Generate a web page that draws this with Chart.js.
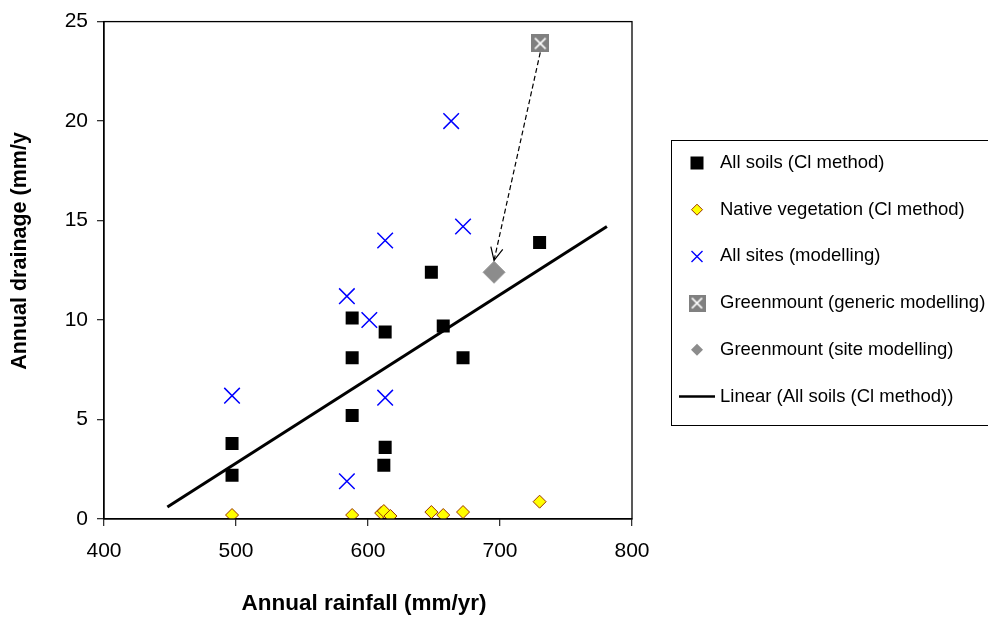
<!DOCTYPE html>
<html>
<head>
<meta charset="utf-8">
<script src="https://cdn.jsdelivr.net/npm/chart.js@4/dist/chart.umd.min.js"></script>
<style>
  html, body { margin: 0; padding: 0; background: #fff; }
  #wrap { width: 988px; height: 621px; position: relative; }
</style>
</head>
<body>
<div id="wrap"><canvas id="drainageChart" width="988" height="621"></canvas></div>
<script>
// values (rainfall mm/yr, drainage mm/y)
const soilX = [497, 497, 588, 588, 588, 613, 613, 612, 648, 657, 672, 730];
const soilY = [3.8, 2.2, 10.1, 8.1, 5.2, 9.4, 3.6, 2.7, 12.4, 9.7, 8.1, 13.9];

const nativeX = [497, 588, 610, 612, 617, 648, 657, 672, 730];
const nativeY = [0.2, 0.2, 0.3, 0.4, 0.15, 0.35, 0.2, 0.35, 0.87];

const sitesX = [497, 584, 601, 613, 584, 663, 613, 672];
const sitesY = [6.2, 11.2, 10.0, 6.1, 1.9, 20.0, 14.0, 14.7];

const genericX = [730.5];
const genericY = [23.9];

const siteModelX = [695.5];
const siteModelY = [12.4];

// trendline end points
const trendX = [448, 781];
const trendY = [0.6, 14.7];

// dashed arrow from generic to site modelling
const arrowFrom = [730.5, 23.45];
const arrowTo = [695.5, 13.0];

const xTicks = [400, 500, 600, 700, 800];
const yTicks = [0, 5, 10, 15, 20, 25];

const legendLabels = [
    'All soils (Cl method)',
    'Native vegetation (Cl method)',
    'All sites (modelling)',
    'Greenmount (generic modelling)',
    'Greenmount (site modelling)',
    'Linear (All soils (Cl method))'
];

const fontFamily = '"Liberation Sans", Arial, sans-serif';

function toPoints(xs, ys) {
    return xs.map((x, i) => ({ x: x, y: ys[i] }));
}

// gray square with white cross marker
function makeGenericMarker(size) {
    const c = document.createElement('canvas');
    c.width = size;
    c.height = size;
    const g = c.getContext('2d');
    g.fillStyle = '#808080';
    g.fillRect(0, 0, size, size);
    g.strokeStyle = '#ffffff';
    g.lineWidth = 1.6;
    const m = size * 0.2;
    g.beginPath();
    g.moveTo(m, m); g.lineTo(size - m, size - m);
    g.moveTo(size - m, m); g.lineTo(m, size - m);
    g.stroke();
    return c;
}
const genericMarker = makeGenericMarker(18);
const genericMarkerSmall = makeGenericMarker(17);

function drawMarker(ctx, kind, x, y) {
    ctx.save();
    if (kind === 0) {
        ctx.fillStyle = '#000';
        ctx.fillRect(x - 6.5, y - 6.5, 13, 13);
    } else if (kind === 1) {
        ctx.beginPath();
        ctx.moveTo(x - 5.5, y); ctx.lineTo(x, y - 5.5); ctx.lineTo(x + 5.5, y); ctx.lineTo(x, y + 5.5);
        ctx.closePath();
        ctx.fillStyle = '#ffff00';
        ctx.fill();
        ctx.strokeStyle = '#993300';
        ctx.lineWidth = 1;
        ctx.stroke();
    } else if (kind === 2) {
        ctx.strokeStyle = '#0000ff';
        ctx.lineWidth = 1.4;
        ctx.beginPath();
        ctx.moveTo(x - 5.5, y - 5.5); ctx.lineTo(x + 5.5, y + 5.5);
        ctx.moveTo(x + 5.5, y - 5.5); ctx.lineTo(x - 5.5, y + 5.5);
        ctx.stroke();
    } else if (kind === 3) {
        ctx.drawImage(genericMarkerSmall, x - 8.5, y - 8.5);
    } else if (kind === 4) {
        ctx.beginPath();
        ctx.moveTo(x - 6, y); ctx.lineTo(x, y - 6); ctx.lineTo(x + 6, y); ctx.lineTo(x, y + 6);
        ctx.closePath();
        ctx.fillStyle = '#8c8c8c';
        ctx.fill();
    } else {
        ctx.strokeStyle = '#000';
        ctx.lineWidth = 2.5;
        ctx.beginPath();
        ctx.moveTo(x - 18, y); ctx.lineTo(x + 18, y);
        ctx.stroke();
    }
    ctx.restore();
}

const extrasPlugin = {
    id: 'extras',
    afterDatasetsDraw(chart) {
        const ctx = chart.ctx;
        const xs = chart.scales.x, ys = chart.scales.y;

        // dashed arrow
        const x1 = xs.getPixelForValue(arrowFrom[0]), y1 = ys.getPixelForValue(arrowFrom[1]);
        const x2 = xs.getPixelForValue(arrowTo[0]), y2 = ys.getPixelForValue(arrowTo[1]);
        ctx.save();
        ctx.strokeStyle = '#000';
        ctx.lineWidth = 1.2;
        ctx.setLineDash([5, 3]);
        ctx.beginPath();
        ctx.moveTo(x1, y1);
        ctx.lineTo(x2, y2);
        ctx.stroke();
        ctx.setLineDash([]);
        const ang = Math.atan2(y2 - y1, x2 - x1);
        const len = 14;
        ctx.beginPath();
        ctx.moveTo(x2 - len * Math.cos(ang - 0.45), y2 - len * Math.sin(ang - 0.45));
        ctx.lineTo(x2, y2);
        ctx.lineTo(x2 - len * Math.cos(ang + 0.45), y2 - len * Math.sin(ang + 0.45));
        ctx.stroke();
        ctx.restore();
    },
    afterDraw(chart) {
        const ctx = chart.ctx;
        const a = chart.chartArea;
        ctx.save();

        // plot box
        ctx.strokeStyle = '#000';
        ctx.lineWidth = 1.3;
        ctx.strokeRect(a.left, a.top, a.right - a.left, a.bottom - a.top);

        // axis titles
        ctx.fillStyle = '#000';
        ctx.textAlign = 'center';
        ctx.textBaseline = 'middle';
        ctx.font = 'bold 22.5px ' + fontFamily;
        ctx.fillText('Annual rainfall (mm/yr)', 364, 604);
        ctx.save();
        ctx.translate(20, 251);
        ctx.rotate(-Math.PI / 2);
        ctx.font = 'bold 21.5px ' + fontFamily;
        ctx.fillText('Annual drainage (mm/y', 0, 0);
        ctx.restore();

        // legend box
        ctx.lineWidth = 1;
        ctx.strokeStyle = '#000';
        ctx.strokeRect(671.5, 140.5, 330, 285);
        ctx.font = '18.5px ' + fontFamily;
        ctx.textAlign = 'left';
        legendLabels.forEach((label, i) => {
            const cy = 163 + i * 46.7;
            drawMarker(ctx, i, 697, cy);
            ctx.fillStyle = '#000';
            ctx.fillText(label, 720, cy);
        });
        ctx.restore();
    }
};

function createChart() {
    const ctx = document.getElementById('drainageChart').getContext('2d');
    new Chart(ctx, {
        type: 'scatter',
        data: {
            datasets: [
                {
                    label: legendLabels[5],
                    type: 'line',
                    data: toPoints(trendX, trendY),
                    borderColor: '#000',
                    borderWidth: 3,
                    pointRadius: 0,
                    fill: false,
                    showLine: true,
                    order: 6
                },
                {
                    label: legendLabels[1],
                    data: toPoints(nativeX, nativeY),
                    pointStyle: 'rectRot',
                    pointRadius: 6.5,
                    backgroundColor: '#ffff00',
                    borderColor: '#993300',
                    borderWidth: 1,
                    order: 5
                },
                {
                    label: legendLabels[2],
                    data: toPoints(sitesX, sitesY),
                    pointStyle: 'crossRot',
                    pointRadius: 11,
                    borderColor: '#0000ff',
                    backgroundColor: '#0000ff',
                    borderWidth: 1.5,
                    order: 4
                },
                {
                    label: legendLabels[0],
                    data: toPoints(soilX, soilY),
                    pointStyle: 'rect',
                    pointRadius: 9.2,
                    backgroundColor: '#000',
                    borderColor: '#000',
                    borderWidth: 0,
                    order: 3
                },
                {
                    label: legendLabels[3],
                    data: toPoints(genericX, genericY),
                    pointStyle: genericMarker,
                    pointRadius: 9,
                    order: 2
                },
                {
                    label: legendLabels[4],
                    data: toPoints(siteModelX, siteModelY),
                    pointStyle: 'rectRot',
                    pointRadius: 11,
                    backgroundColor: '#8c8c8c',
                    borderColor: '#999999',
                    borderWidth: 1,
                    order: 1
                }
            ]
        },
        options: {
            responsive: false,
            animation: false,
            layout: { padding: { top: 21, right: 356, bottom: 0, left: 0 } },
            plugins: {
                legend: { display: false },
                tooltip: { enabled: false }
            },
            scales: {
                x: {
                    type: 'linear',
                    min: xTicks[0],
                    max: xTicks[xTicks.length - 1],
                    afterFit: scale => { scale.height = 102; },
                    afterBuildTicks: scale => { scale.ticks = xTicks.map(v => ({ value: v })); },
                    ticks: {
                        padding: 13,
                        color: '#000',
                        font: { size: 21, family: fontFamily }
                    },
                    grid: { drawOnChartArea: false, tickLength: 7, color: '#333', lineWidth: 1.3 },
                    border: { color: '#000', width: 1.3 }
                },
                y: {
                    type: 'linear',
                    min: yTicks[0],
                    max: yTicks[yTicks.length - 1],
                    afterFit: scale => { scale.width = 104; },
                    afterBuildTicks: scale => { scale.ticks = yTicks.map(v => ({ value: v })); },
                    ticks: {
                        padding: 9,
                        color: '#000',
                        font: { size: 21, family: fontFamily }
                    },
                    grid: { drawOnChartArea: false, tickLength: 7, color: '#333', lineWidth: 1.3 },
                    border: { color: '#000', width: 1.3 }
                }
            }
        },
        plugins: [extrasPlugin]
    });
}

document.addEventListener('DOMContentLoaded', createChart);
</script>
</body>
</html>
